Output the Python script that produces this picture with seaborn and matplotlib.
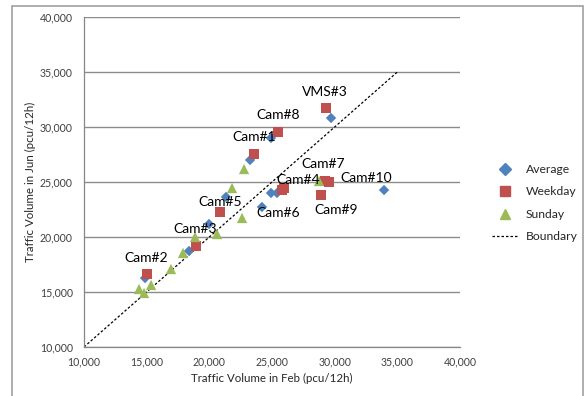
import matplotlib
matplotlib.use("Agg")
import matplotlib.pyplot as plt
import pandas as pd
import seaborn as sns
from matplotlib.lines import Line2D
from matplotlib.patches import Rectangle
from matplotlib.ticker import FuncFormatter

# Traffic volumes (pcu/12h)
avg_feb = [14870, 18380, 19970, 21330, 24200, 24920, 25400, 23250, 24920, 29710, 33940]
avg_jun = [16270, 18730, 21180, 23640, 22730, 24000, 24000, 27000, 29000, 30820, 24270]

wkd_feb = [15030, 18940, 20850, 23560, 25480, 29310, 25800, 25960, 29230, 29550, 28910]
wkd_jun = [16640, 19180, 22270, 27550, 29550, 31730, 24270, 24450, 25090, 25000, 23820]

sun_feb = [14390, 14790, 15350, 16940, 17900, 18860, 20610, 21810, 22610, 22770, 28750]
sun_jun = [15270, 14910, 15640, 17090, 18550, 20000, 20270, 24450, 21730, 26180, 25090]

boundary = [10000, 35000]

# location labels: name, series the label sits next to, index in that series
label_names = ['Cam#2', 'Cam#3', 'Cam#5', 'Cam#1', 'Cam#8', 'VMS#3',
               'Cam#7', 'Cam#4', 'Cam#10', 'Cam#6', 'Cam#9']
label_series = ['Average', 'Average', 'Average', 'Average', 'Average', 'Average',
                'Weekday', 'Average', 'Average', 'Average', 'Weekday']
label_index = [0, 1, 2, 7, 8, 9, 8, 6, 10, 4, 10]
label_offset = [(1, 20), (6, 22), (11, 22), (4, 23), (7, 23), (-6, 26),
                (-2, 17), (21, 13), (-18, 12), (16, -6), (15, -15)]

df = pd.concat([
    pd.DataFrame({'feb': avg_feb, 'jun': avg_jun, 'series': 'Average'}),
    pd.DataFrame({'feb': wkd_feb, 'jun': wkd_jun, 'series': 'Weekday'}),
    pd.DataFrame({'feb': sun_feb, 'jun': sun_jun, 'series': 'Sunday'}),
], ignore_index=True)

colors = {'Average': '#4F81BD', 'Weekday': '#C0504D', 'Sunday': '#9BBB59'}
markers = {'Average': 'D', 'Weekday': 's', 'Sunday': '^'}
sizes = {'Average': 28, 'Weekday': 55, 'Sunday': 55}

sns.set_style('white')
plt.rcParams['font.family'] = ['Lato', 'DejaVu Sans']

fig = plt.figure(figsize=(5.84, 3.96), dpi=100)
ax = fig.add_axes([84 / 584, 1 - 347 / 396, 376 / 584, 330 / 396])

for name in ['Average', 'Weekday', 'Sunday']:
    sub = df[df['series'] == name]
    sns.scatterplot(data=sub, x='feb', y='jun', marker=markers[name],
                    color=colors[name], s=sizes[name], edgecolor='none',
                    ax=ax, zorder=3, legend=False)

ax.plot(boundary, boundary, color='black', linestyle=(0, (2, 1.6)),
        linewidth=0.9, zorder=2)

for name, ser, i, off in zip(label_names, label_series, label_index, label_offset):
    sub = df[df['series'] == ser].reset_index(drop=True)
    ax.annotate(name, (sub.loc[i, 'feb'], sub.loc[i, 'jun']), xytext=off,
                textcoords='offset pixels', ha='center', va='center',
                fontsize=10, color='black', zorder=4)

ax.set_xlim(10000, 40000)
ax.set_ylim(10000, 40000)
ax.set_xticks(range(10000, 40001, 5000))
ax.set_yticks(range(10000, 40001, 5000))
fmt = FuncFormatter(lambda v, p: f'{int(v):,}')
ax.xaxis.set_major_formatter(fmt)
ax.yaxis.set_major_formatter(fmt)
ax.tick_params(axis='both', labelsize=7.6, colors='#404040', length=4,
               width=0.8, direction='out')
ax.tick_params(axis='x', color='#868686', pad=3)
ax.tick_params(axis='y', color='#868686', pad=4)
ax.grid(axis='y', color='#8c8c8c', linewidth=1)
ax.grid(axis='x', visible=False)
ax.set_axisbelow(True)
for side in ['top', 'right']:
    ax.spines[side].set_visible(False)
for side in ['left', 'bottom']:
    ax.spines[side].set_color('#868686')
    ax.spines[side].set_linewidth(0.9)

ax.set_xlabel('Traffic Volume in Feb (pcu/12h)', fontsize=8.3, color='#262626', labelpad=4)
ax.set_ylabel('Traffic Volume in Jun (pcu/12h)', fontsize=8.3, color='#262626', labelpad=3)

handles = [Line2D([], [], marker=markers[n], color=colors[n], linestyle='none',
                  markersize=6 if n == 'Average' else 7) for n in ['Average', 'Weekday', 'Sunday']]
handles.append(Line2D([], [], color='black', linestyle=(0, (2, 1.6)), linewidth=0.9))
fig.legend(handles, ['Average', 'Weekday', 'Sunday', 'Boundary'],
           loc='center left', bbox_to_anchor=(487 / 584, 1 - 203 / 396),
           frameon=False, fontsize=8.7, handlelength=2.2, handletextpad=0.6,
           labelspacing=0.95, borderaxespad=0)

fig.patches.append(Rectangle((12 / 584, -0.05), 571 / 584, 1.05 - 6 / 396,
                             transform=fig.transFigure, fill=False,
                             edgecolor='#a0a0a0', linewidth=1.2))

fig.savefig('out.png', dpi=100)
